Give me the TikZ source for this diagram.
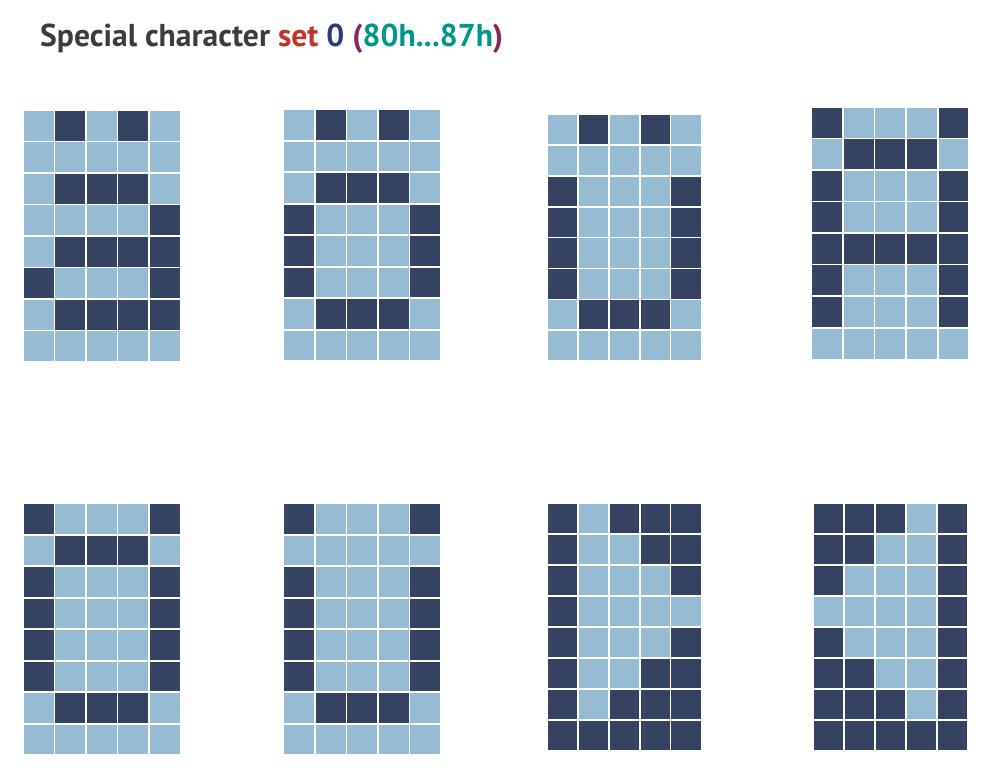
\documentclass[tikz,border=0pt]{standalone}
\usepackage{fontspec}
\setmainfont{PT Sans}
\definecolor{cdark}{HTML}{354262}
\definecolor{clight}{HTML}{97BBD2}
\definecolor{tgray}{HTML}{3C3C3B}
\definecolor{tred}{HTML}{C0342A}
\definecolor{tnavy}{HTML}{2C3A7C}
\definecolor{tplum}{HTML}{8A2858}
\definecolor{tteal}{HTML}{00968A}
\newcommand\drawglyph[5]{%
  \foreach \row [count=\r from 0] in {#5} {
    \foreach \v [count=\c from 0] in \row {
      \ifnum\v=1\def\cc{cdark}\else\def\cc{clight}\fi
      \fill[\cc] ({#1+\c*#3},{#2+\r*#4}) rectangle ++({#3-1.6},{#4-1.6});
    }
  }%
}
\begin{document}
\begin{tikzpicture}[x=1pt,y=-1pt]
\useasboundingbox (0,0) rectangle (1007,784);
\node[anchor=base west,inner sep=0pt,font=\fontsize{31.6}{34}\selectfont\bfseries,text=tgray] (title) at (40,46.5)
  {Special character \textcolor{tred}{set} \textcolor{tnavy}{0} \textcolor{tplum}{(}\textcolor{tteal}{80h...87h}\textcolor{tplum}{)}};
% row 1
\drawglyph{24}{110.7}{31.45}{31.5}{{0,1,0,1,0},{0,0,0,0,0},{0,1,1,1,0},{0,0,0,0,1},{0,1,1,1,1},{1,0,0,0,1},{0,1,1,1,1},{0,0,0,0,0}}
\drawglyph{284}{110}{31.55}{31.5}{{0,1,0,1,0},{0,0,0,0,0},{0,1,1,1,0},{1,0,0,0,1},{1,0,0,0,1},{1,0,0,0,1},{0,1,1,1,0},{0,0,0,0,0}}
\drawglyph{548}{115}{30.85}{30.85}{{0,1,0,1,0},{0,0,0,0,0},{1,0,0,0,1},{1,0,0,0,1},{1,0,0,0,1},{1,0,0,0,1},{0,1,1,1,0},{0,0,0,0,0}}
\drawglyph{812.3}{107.7}{31.55}{31.55}{{1,0,0,0,1},{0,1,1,1,0},{1,0,0,0,1},{1,0,0,0,1},{1,1,1,1,1},{1,0,0,0,1},{1,0,0,0,1},{0,0,0,0,0}}
% row 2
\drawglyph{24}{504}{31.45}{31.5}{{1,0,0,0,1},{0,1,1,1,0},{1,0,0,0,1},{1,0,0,0,1},{1,0,0,0,1},{1,0,0,0,1},{0,1,1,1,0},{0,0,0,0,0}}
\drawglyph{284}{504}{31.55}{31.5}{{1,0,0,0,1},{0,0,0,0,0},{1,0,0,0,1},{1,0,0,0,1},{1,0,0,0,1},{1,0,0,0,1},{0,1,1,1,0},{0,0,0,0,0}}
\drawglyph{548}{504}{30.85}{31.0}{{1,0,1,1,1},{1,0,0,1,1},{1,0,0,0,1},{1,0,0,0,0},{1,0,0,0,1},{1,0,0,1,1},{1,0,1,1,1},{1,1,1,1,1}}
\drawglyph{814}{504}{31.0}{31.0}{{1,1,1,0,1},{1,1,0,0,1},{1,0,0,0,1},{0,0,0,0,1},{1,0,0,0,1},{1,1,0,0,1},{1,1,1,0,1},{1,1,1,1,1}}
\end{tikzpicture}
\end{document}
